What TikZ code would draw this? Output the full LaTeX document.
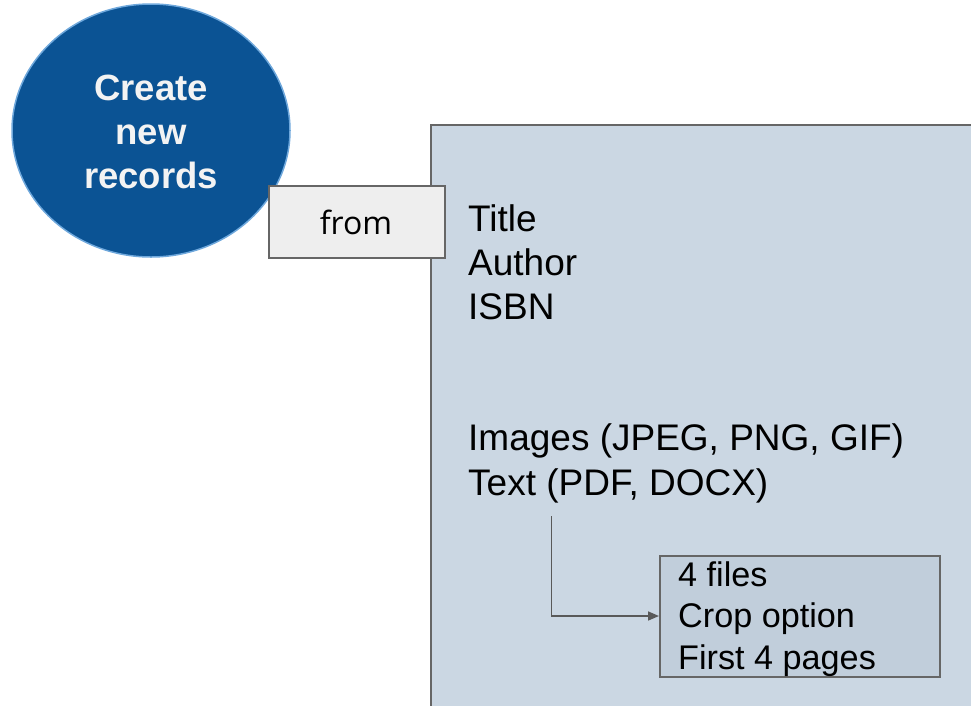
\documentclass[tikz,border=0pt]{standalone}
\usepackage{fontspec}
\setmainfont{Liberation Sans}
\newfontfamily\fromfont{Open Sans}
\usetikzlibrary{shapes.geometric,arrows.meta}
\definecolor{circfill}{HTML}{0B5394}
\definecolor{circline}{HTML}{6FA8DC}
\definecolor{circtxt}{HTML}{F3F3F3}
\definecolor{bigfill}{HTML}{CBD7E3}
\definecolor{smallfill}{HTML}{C1CEDB}
\definecolor{fromfill}{HTML}{EEEEEE}
\definecolor{edge}{HTML}{666666}
\definecolor{arrowc}{HTML}{595959}
\tikzset{
  bigtext/.style={anchor=base west, inner sep=0pt, font=\fontsize{37}{44}\selectfont, text=black},
  smalltext/.style={anchor=base west, inner sep=0pt, font=\fontsize{34.2}{41}\selectfont, text=black},
  boxline/.style={draw=edge, line width=1.8pt},
  conn/.style={draw=arrowc, line width=1.6pt, -{Triangle[length=11pt,width=9pt]}}
}
\begin{document}
\begin{tikzpicture}[x=1pt,y=-1pt]
\useasboundingbox (0,0) rectangle (971,705);
\clip (0,0) rectangle (971,705);
% circle
\node[ellipse, fill=circfill, draw=circline, line width=1.5pt,
      minimum width=278pt, minimum height=253pt, inner sep=0pt] (circ) at (151,130.5) {};
\node[anchor=base, inner sep=0pt, align=center, text=circtxt,
      font=\fontsize{36.5}{44}\selectfont\bfseries] (circtext) at (151,188)
  {Create\\new\\records};
% big panel
\draw[boxline, fill=bigfill] (431,125) rectangle (990,720);
\coordinate (panel) at (431,125);
% from box
\node[boxline, fill=fromfill, anchor=north west, minimum width=176pt, minimum height=72pt, inner sep=0pt] (frombox) at (268,185) {};
\node[anchor=base, inner sep=0pt, font=\fromfont\fontsize{32}{32}\selectfont] (fromtext) at (356,234) {from};
% text in panel
\node[bigtext] (title) at (468,231.5) {Title};
\node[bigtext] (author) at (468,275.5) {Author};
\node[bigtext] (isbn) at (468,319) {ISBN};
\node[bigtext] (images) at (468,450.7) {Images (JPEG, PNG, GIF)};
\node[bigtext] (textl) at (468,495) {Text (PDF, DOCX)};
% small box
\node[boxline, fill=smallfill, anchor=north west, minimum width=280pt, minimum height=121pt, inner sep=0pt] (small) at (659,555) {};
\node[smalltext] (files) at (678,586) {4 files};
\node[smalltext] (crop) at (678,627.7) {Crop option};
\node[smalltext] (first) at (678,669) {First 4 pages};
% connector
\coordinate (cstart) at (551.5,516);
\coordinate (cbend) at (551.5,616);
\draw[conn] (cstart) -- (cbend) -- (small.west |- cbend);
\end{tikzpicture}
\end{document}
